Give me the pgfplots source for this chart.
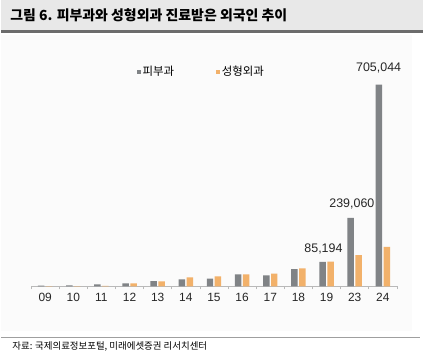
\documentclass[border=0pt]{standalone}
\usepackage{pgfplots}
\pgfplotsset{compat=1.18}
\usepackage{fontspec}
\setmainfont{Liberation Sans}
\newfontfamily\kr{Noto Sans CJK KR}
\definecolor{bargray}{HTML}{808386}
\definecolor{barorange}{HTML}{F2B16A}
\definecolor{band}{HTML}{E8E8E8}
\begin{document}
\begin{tikzpicture}
\path (0,0) rectangle (424bp,359bp);
% panel
\fill[gray!3] (0,26bp) rectangle (413bp,324bp);
% title band
\fill[band] (0,329bp) rectangle (424bp,359bp);
\draw[line width=2.5bp, gray!85!black] (0,327.5bp) -- (424bp,327.5bp);
\node[anchor=west, inner sep=0pt] at (9bp,344bp) {\kr\bfseries\fontsize{14bp}{16bp}\selectfont 그림 6. 피부과와 성형외과 진료받은 외국인 추이};
% footer
\draw[line width=1bp, gray!75] (0,20bp) -- (421bp,20bp);
\node[anchor=west, inner sep=0pt] at (11bp,10.5bp) {\kr\fontsize{9.5bp}{11bp}\selectfont 자료: 국제의료정보포털, 미래에셋증권 리서치센터};
\begin{axis}[
  at={(30bp,71bp)}, anchor=south west,
  scale only axis, width=368bp, height=228bp,
  xmin=-0.5, xmax=12.5, ymin=0, ymax=791870,
  clip=false,
  axis y line=none,
  axis x line=bottom,
  axis line style={-, draw=gray!55, line width=0.8bp},
  ybar=1.5bp, bar width=6.5bp,
  xtick={0,...,12},
  xticklabels={09,10,11,12,13,14,15,16,17,18,19,23,24},
  minor xtick={-0.5,0.5,...,12.5},
  major tick length=0pt,
  minor tick length=3bp,
  tick align=outside,
  minor tick style={draw=gray!55, line width=0.8bp},
  xticklabel style={font=\fontsize{12bp}{14bp}\selectfont, text=black!85, yshift=-3bp},
  legend style={at={(0.28,0.947)}, anchor=west, draw=none, fill=none,
    legend columns=2, font=\kr\fontsize{11.5bp}{13bp}\selectfont,
    /tikz/every even column/.append style={column sep=40bp}},
  legend image code/.code={\fill[#1] (0bp,-2bp) rectangle (4bp,2bp);},
]
\addplot[fill=bargray, draw=none] coordinates {
(0,2000) (1,3500) (2,7000) (3,10400) (4,18500) (5,24000) (6,26700) (7,41700) (8,38000) (9,60000) (10,85194) (11,239060) (12,705044)};
\addplot[fill=barorange, draw=none] coordinates {
(0,500) (1,1000) (2,1500) (3,10400) (4,17000) (5,31000) (6,34700) (7,41700) (8,44000) (9,62500) (10,86000) (11,109000) (12,138000)};
\legend{피부과,성형외과}
\node[font=\fontsize{12.5bp}{14bp}\selectfont, text=black!85] at (axis cs:9.89,132000) {85,194};
\node[font=\fontsize{12.5bp}{14bp}\selectfont, text=black!85] at (axis cs:10.9,288300) {239,060};
\node[font=\fontsize{12.5bp}{14bp}\selectfont, text=black!85] at (axis cs:11.85,764000) {705,044};
\end{axis}
\end{tikzpicture}
\end{document}
